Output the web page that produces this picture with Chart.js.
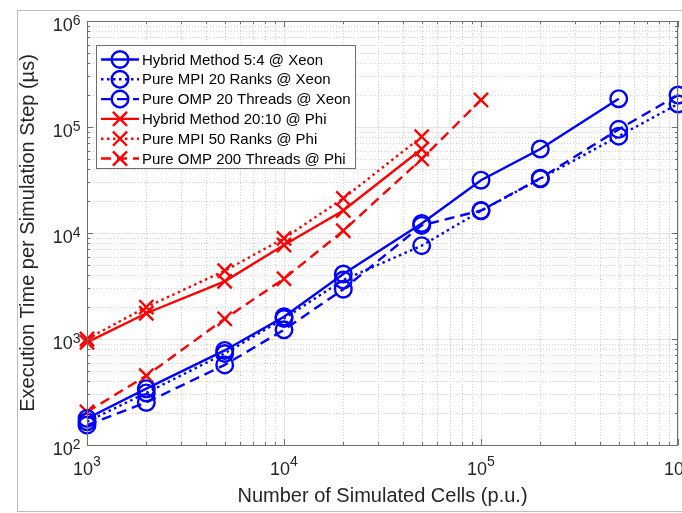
<!DOCTYPE html>
<html>
<head>
<meta charset="utf-8">
<script src="https://cdn.jsdelivr.net/npm/chart.js@4.4.1/dist/chart.umd.min.js"></script>
<style>
  html, body { margin: 0; padding: 0; background: #fff; overflow: hidden; }
  canvas { display: block; }
</style>
</head>
<body>
<canvas id="c" width="682" height="513"></canvas>
<script>
// execution time per simulation step, log-log
var cells  = [1e3, 2e3, 5e3, 1e4, 2e4, 5e4, 1e5, 2e5, 5e5, 1e6];
var xTicks = [1e3, 1e4, 1e5, 1e6];
var yTicks = [1e2, 1e3, 1e4, 1e5, 1e6];

var hybridXeon = [178, 340, 780, 1620, 4100, 12300, 31500, 62000, 185000, null];
var mpiXeon    = [166, 310, 730, 1560, 3600, 7600, 16200, 32500, 82000, 165000];
var ompXeon    = [154, 252, 570, 1220, 2950, 11800, 16300, 32800, 95000, 200000];
var hybridPhi  = [930, 1750, 3500, 7700, 16300, 62000, null, null, null, null];
var mpiPhi     = [1000, 2000, 4400, 8900, 21200, 81000, null, null, null, null];
var ompPhi     = [205, 450, 1550, 3700, 10500, 50000, 180000, null, null, null];

var seriesNames = [
  "Hybrid Method 5:4 @ Xeon",
  "Pure MPI 20 Ranks @ Xeon",
  "Pure OMP 20 Threads @ Xeon",
  "Hybrid Method 20:10 @ Phi",
  "Pure MPI 50 Ranks @ Phi",
  "Pure OMP 200 Threads @ Phi"
];

var FONT = "'Liberation Sans', Arial, Helvetica, sans-serif";
var BLUE = "#0000ff", RED = "#ff0000";
var DOT = [2.5, 3.5], DASH = [10, 6];

function mkSet(label, vals, color, dash, style, radius) {
  var pts = [];
  cells.forEach(function(c, i) { if (vals[i] != null) pts.push({ x: c, y: vals[i] }); });
  return {
    label: label, data: pts,
    borderColor: color, backgroundColor: color,
    borderWidth: 2.4, borderDash: dash, tension: 0, fill: false, clip: false,
    pointStyle: style, pointRadius: radius, pointBorderWidth: 2.4,
    pointBackgroundColor: "rgba(0,0,0,0)", pointBorderColor: color
  };
}

var datasets = [
  mkSet(seriesNames[0], hybridXeon, BLUE, [],   "circle",   8.3),
  mkSet(seriesNames[1], mpiXeon,    BLUE, DOT,  "circle",   8.3),
  mkSet(seriesNames[2], ompXeon,    BLUE, DASH, "circle",   8.3),
  mkSet(seriesNames[3], hybridPhi,  RED,  [],   "crossRot", 10),
  mkSet(seriesNames[4], mpiPhi,     RED,  DOT,  "crossRot", 10),
  mkSet(seriesNames[5], ompPhi,     RED,  DASH, "crossRot", 10)
];

function minorVals(lo, hi) {
  var out = [];
  for (var d = lo; d < hi; d *= 10) for (var m = 2; m <= 9; m++) out.push(d * m);
  return out;
}

// ── matlab-style look: frame, dotted minor grid, inner ticks, 10^n labels, legend ──
var matlabLook = {
  id: "matlabLook",
  beforeDraw: function(chart) {
    var ctx = chart.ctx;
    ctx.save();
    ctx.fillStyle = "#fff";
    ctx.fillRect(0, 0, chart.width, chart.height);
    ctx.strokeStyle = "#bcbcbc";
    ctx.lineWidth = 1;
    ctx.strokeRect(17.5, 10.5, chart.width + 10, chart.height - 12);
    ctx.restore();
  },
  beforeDatasetsDraw: function(chart) {
    var ctx = chart.ctx, a = chart.chartArea;
    var xs = chart.scales.x, ys = chart.scales.y;
    ctx.save();
    ctx.strokeStyle = "#d2d2d2";
    ctx.lineWidth = 1;
    ctx.setLineDash([1, 2]);
    minorVals(1e3, 1e6).forEach(function(v) {
      var px = Math.round(xs.getPixelForValue(v)) + 0.5;
      ctx.beginPath(); ctx.moveTo(px, a.top); ctx.lineTo(px, a.bottom); ctx.stroke();
    });
    minorVals(1e2, 1e6).forEach(function(v) {
      var py = Math.round(ys.getPixelForValue(v)) + 0.5;
      ctx.beginPath(); ctx.moveTo(a.left, py); ctx.lineTo(a.right, py); ctx.stroke();
    });
    ctx.restore();
  },
  afterDatasetsDraw: function(chart) {
    var ctx = chart.ctx, a = chart.chartArea;
    var xs = chart.scales.x, ys = chart.scales.y;
    ctx.save();

    // axes box
    ctx.strokeStyle = "#6e6e6e";
    ctx.lineWidth = 1;
    ctx.strokeRect(a.left + 0.5, a.top + 0.5, a.right - a.left - 1, a.bottom - a.top);

    // inner ticks
    function xTick(v, len) {
      var px = Math.round(xs.getPixelForValue(v)) + 0.5;
      ctx.beginPath();
      ctx.moveTo(px, a.bottom); ctx.lineTo(px, a.bottom - len);
      ctx.moveTo(px, a.top); ctx.lineTo(px, a.top + len);
      ctx.stroke();
    }
    function yTick(v, len) {
      var py = Math.round(ys.getPixelForValue(v)) + 0.5;
      ctx.beginPath();
      ctx.moveTo(a.left, py); ctx.lineTo(a.left + len, py);
      ctx.moveTo(a.right, py); ctx.lineTo(a.right - len, py);
      ctx.stroke();
    }
    xTicks.forEach(function(v) { xTick(v, 6); });
    minorVals(1e3, 1e6).forEach(function(v) { xTick(v, 3); });
    yTicks.forEach(function(v) { yTick(v, 6); });
    minorVals(1e2, 1e6).forEach(function(v) { yTick(v, 3); });

    // tick labels 10^n
    ctx.fillStyle = "#262626";
    ctx.textBaseline = "alphabetic";
    yTicks.forEach(function(v) {
      var py = ys.getPixelForValue(v);
      var e = String(Math.round(Math.log10(v)));
      ctx.font = "14px " + FONT;
      var ew = ctx.measureText(e).width;
      ctx.textAlign = "left";
      ctx.fillText(e, 80.5 - ew, py + 4);
      ctx.font = "18px " + FONT;
      ctx.textAlign = "right";
      ctx.fillText("10", 80.5 - ew, py + 10);
    });
    xTicks.forEach(function(v) {
      var px = xs.getPixelForValue(v);
      var e = String(Math.round(Math.log10(v)));
      ctx.font = "14px " + FONT;
      var ew = ctx.measureText(e).width;
      ctx.font = "18px " + FONT;
      var bw = ctx.measureText("10").width;
      var x0 = px - (bw + ew) / 2;
      ctx.textAlign = "left";
      ctx.fillText("10", x0, a.bottom + 30);
      ctx.font = "14px " + FONT;
      ctx.fillText(e, x0 + bw, a.bottom + 21);
    });

    // legend
    var lx = 96.5, ly = 45.5, lw = 259, lh = 123;
    ctx.fillStyle = "#fff";
    ctx.fillRect(lx, ly, lw, lh);
    ctx.strokeStyle = "#6e6e6e";
    ctx.lineWidth = 1;
    ctx.strokeRect(lx, ly, lw, lh);
    chart.data.datasets.forEach(function(d, i) {
      var y = 59.5 + i * 19.8;
      ctx.strokeStyle = d.borderColor;
      ctx.lineWidth = d.borderWidth;
      ctx.setLineDash(d.borderDash);
      ctx.beginPath(); ctx.moveTo(101, y); ctx.lineTo(139, y); ctx.stroke();
      ctx.setLineDash([]);
      ctx.fillStyle = "rgba(0,0,0,0)";
      Chart.helpers.drawPoint(ctx, { pointStyle: d.pointStyle, radius: d.pointRadius, borderWidth: d.pointBorderWidth, rotation: 0 }, 120, y);
      ctx.fillStyle = "#000";
      ctx.font = "15px " + FONT;
      ctx.textAlign = "left";
      ctx.textBaseline = "middle";
      ctx.fillText(d.label, 142, y + 1);
    });
    ctx.restore();
  }
};

new Chart(document.getElementById("c"), {
  type: "line",
  data: { datasets: datasets },
  options: {
    responsive: false, animation: false, devicePixelRatio: 1,
    layout: { autoPadding: false, padding: { top: 21, right: 4, left: 0, bottom: 0 } },
    plugins: { legend: { display: false }, tooltip: { enabled: false } },
    scales: {
      x: {
        type: "logarithmic", min: 1e3, max: 1e6,
        afterBuildTicks: function(axis) { axis.ticks = xTicks.map(function(v) { return { value: v }; }); },
        afterFit: function(s) { s.height = 68; },
        ticks: { display: false },
        grid: { color: "#e4e4e4", lineWidth: 1, drawTicks: false },
        border: { display: false },
        title: { display: true, text: "Number of Simulated Cells (p.u.)", color: "#262626",
                 font: { size: 20, family: FONT }, padding: { top: 0, bottom: 5 } }
      },
      y: {
        type: "logarithmic", min: 1e2, max: 1e6,
        afterBuildTicks: function(axis) { axis.ticks = yTicks.map(function(v) { return { value: v }; }); },
        afterFit: function(s) { s.width = 87; },
        ticks: { display: false },
        grid: { color: "#e4e4e4", lineWidth: 1, drawTicks: false },
        border: { display: false },
        title: { display: true, text: "Execution Time per Simulation Step (µs)", color: "#262626",
                 font: { size: 20, family: FONT }, padding: { top: 16, bottom: 0 } }
      }
    }
  },
  plugins: [matlabLook]
});
</script>
</body>
</html>
